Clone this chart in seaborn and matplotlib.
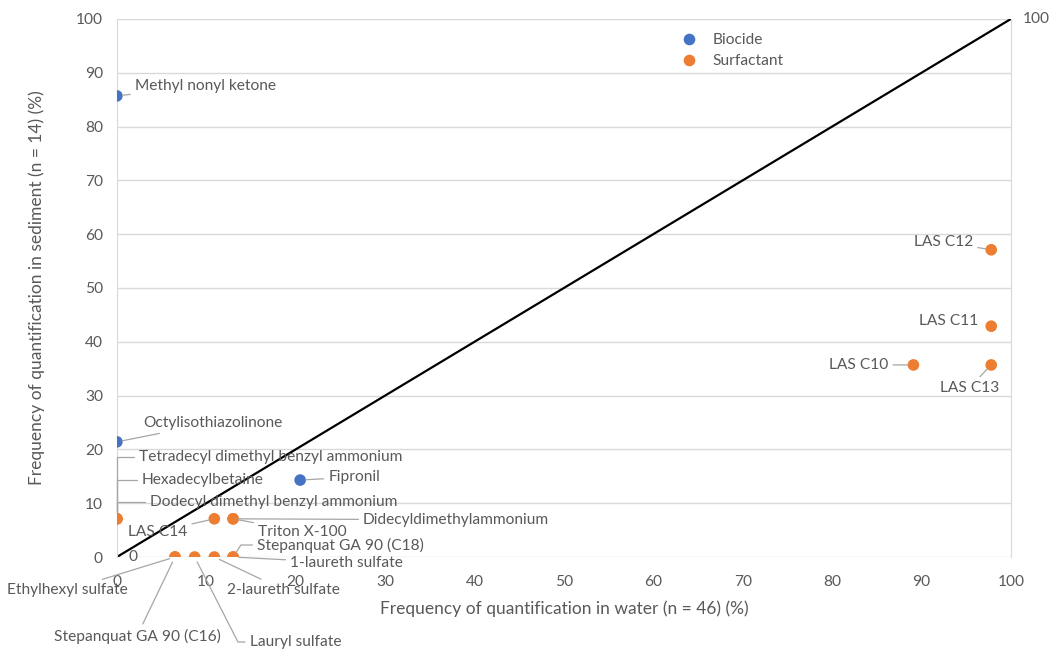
import matplotlib
matplotlib.use("Agg")
import matplotlib.pyplot as plt
import seaborn as sns
import pandas as pd

# values
names = [
    "Methyl nonyl ketone", "Octylisothiazolinone", "Fipronil",
    "Tetradecyl dimethyl benzyl ammonium", "Hexadecylbetaine",
    "Dodecyl dimethyl benzyl ammonium", "LAS C14", "Didecyldimethylammonium",
    "Triton X-100", "Stepanquat GA 90 (C18)", "1-laureth sulfate",
    "2-laureth sulfate", "Lauryl sulfate", "Stepanquat GA 90 (C16)",
    "Ethylhexyl sulfate", "LAS C12", "LAS C11", "LAS C10", "LAS C13",
]
water = [0, 0, 20.5,
         0, 0, 0, 10.9, 13.0, 13.0, 13.0, 13.0, 10.9, 8.7, 6.5, 6.5,
         97.8, 97.8, 89.1, 97.8]
sediment = [85.7, 21.4, 14.3,
            7.1, 7.1, 7.1, 7.1, 7.1, 7.1, 0, 0, 0, 0, 0, 0,
            57.1, 42.9, 35.7, 35.7]
group = ["Biocide"] * 3 + ["Surfactant"] * 16

line_x = [0, 100]
line_y = [0, 100]

# label placement: offset in pixels from the point, alignment, leader style
elbow = "angle,angleA=0,angleB=90,rad=0"
offsets = {
    "Methyl nonyl ketone": (18, 10, "left", "arc3"),
    "Octylisothiazolinone": (26, 19, "left", "arc3"),
    "Fipronil": (28, 3, "left", "arc3"),
    "Tetradecyl dimethyl benzyl ammonium": (22, 62, "left", elbow),
    "Hexadecylbetaine": (25, 39, "left", elbow),
    "Dodecyl dimethyl benzyl ammonium": (33, 17, "left", elbow),
    "LAS C14": (-27, -13, "right", "arc3"),
    "Didecyldimethylammonium": (130, -1, "left", "arc3"),
    "Triton X-100": (25, -13, "left", "arc3"),
    "Stepanquat GA 90 (C18)": (24, 12, "left", "angle,angleA=0,angleB=57,rad=0"),
    "1-laureth sulfate": (57, -6, "left", "arc3"),
    "2-laureth sulfate": (13, -33, "left", "arc3"),
    "Lauryl sulfate": (55, -85, "left", "angle,angleA=0,angleB=-63,rad=0"),
    "Stepanquat GA 90 (C16)": (-38, -79, "center", "arc3"),
    "Ethylhexyl sulfate": (-47, -33, "right", "arc3"),
    "LAS C12": (-18, 8, "right", "arc3"),
    "LAS C11": (-13, 5, "right", None),
    "LAS C10": (-25, 0, "right", "arc3"),
    "LAS C13": (-22, -23, "center", "arc3"),
}

df = pd.DataFrame({"name": names, "water": water, "sediment": sediment, "group": group})

sns.set_style("white")
plt.rcParams["font.family"] = ["Lato", "DejaVu Sans"]
txt = "#595959"
fs = 11.2

fig = plt.figure(figsize=(10.53, 6.52), dpi=100)
ax = fig.add_axes([0.111, 0.1457, 0.849, 0.8252])

ax.plot(line_x, line_y, color="black", lw=1.6, zorder=2)
sns.scatterplot(data=df, x="water", y="sediment", hue="group",
                palette={"Biocide": "#4472C4", "Surfactant": "#ED7D31"},
                s=70, linewidth=0, ax=ax, zorder=3)

for n, x, y in zip(names, water, sediment):
    dx, dy, ha, conn = offsets[n]
    arrow = None
    if conn:
        arrow = dict(arrowstyle="-", color="#a6a6a6", lw=0.9,
                     shrinkA=1, shrinkB=4, connectionstyle=conn)
    ax.annotate(n, (x, y), xytext=(dx, dy), textcoords="offset pixels",
                ha=ha, va="center", fontsize=fs, color=txt,
                annotation_clip=False, arrowprops=arrow)

# data labels of the 1:1 line
for x, y in zip(line_x, line_y):
    ax.annotate(f"{y}", (x, y), xytext=(12, 0), textcoords="offset pixels",
                ha="left", va="center", fontsize=fs, color=txt,
                annotation_clip=False)

ax.set_xlim(0, 100)
ax.set_ylim(0, 100)
ax.set_xticks(range(0, 101, 10))
ax.set_yticks(range(0, 101, 10))
ax.grid(axis="y", color="#d9d9d9", lw=1)
ax.grid(axis="x", visible=False)
for side in ["top", "bottom"]:
    ax.spines[side].set_visible(False)
for side in ["left", "right"]:
    ax.spines[side].set_color("#d9d9d9")
ax.tick_params(axis="x", length=0, pad=13, labelsize=fs, labelcolor=txt)
ax.tick_params(axis="y", length=0, pad=10, labelsize=fs, labelcolor=txt)

ax.set_xlabel("Frequency of quantification in water (n = 46) (%)",
              fontsize=12.5, color=txt, labelpad=8)
ax.set_ylabel("Frequency of quantification in sediment (n = 14) (%)",
              fontsize=12.5, color=txt, labelpad=22)

leg = ax.legend(loc="upper left", bbox_to_anchor=(0.607, 1.0), frameon=False,
                fontsize=fs, handletextpad=0.5, labelspacing=0.45,
                markerscale=1.0)
for t in leg.get_texts():
    t.set_color(txt)

fig.savefig("out.png", dpi=100)
